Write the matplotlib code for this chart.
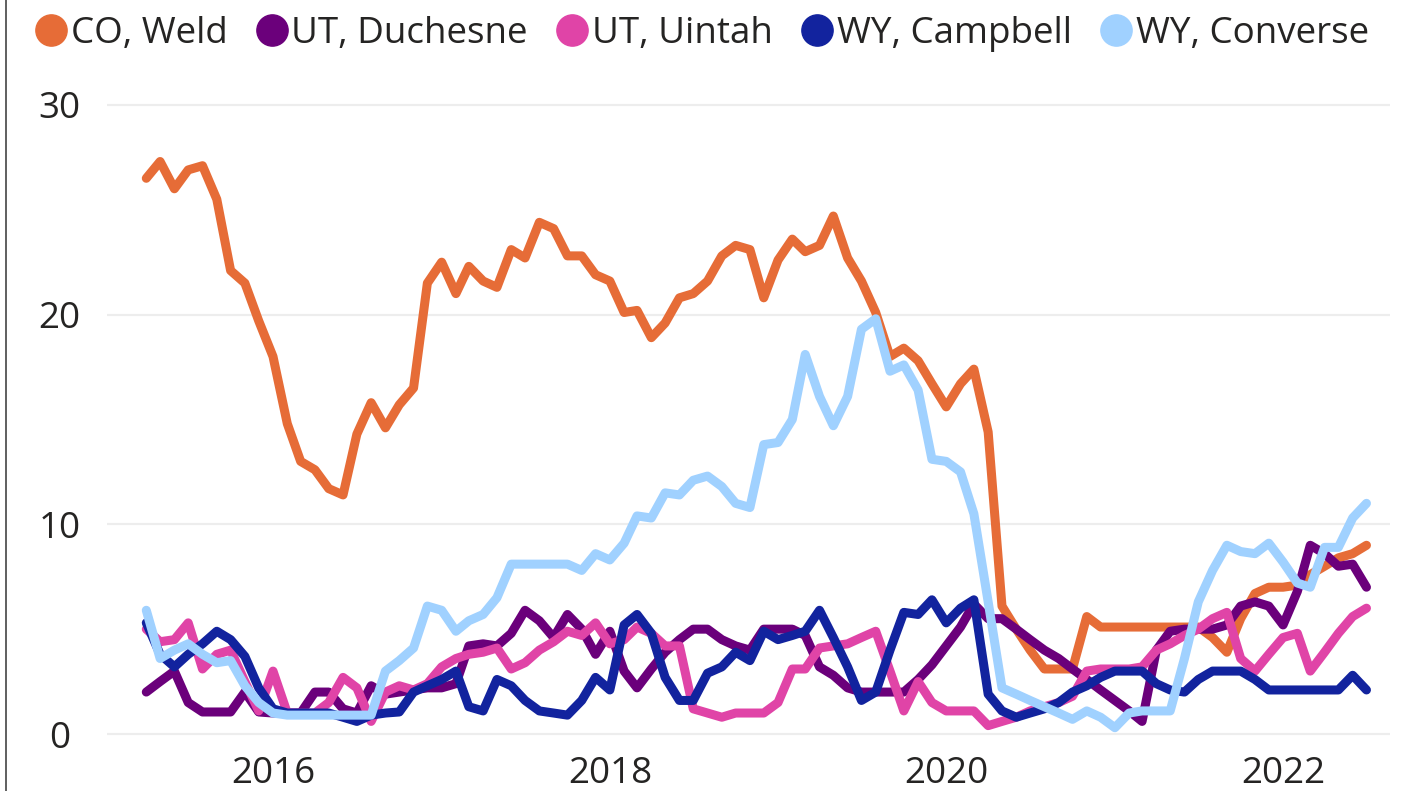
import matplotlib
matplotlib.use("Agg")
import matplotlib.pyplot as plt
import matplotlib.dates as mdates
from matplotlib.lines import Line2D
import pandas as pd

plt.rcParams['font.family'] = ['Open Sans', 'DejaVu Sans']

months = pd.date_range('2015-04-01', periods=88, freq='MS')

series_names = ['CO, Weld', 'UT, Duchesne', 'UT, Uintah', 'WY, Campbell', 'WY, Converse']
series_colors = ['#E66C37', '#6B007B', '#E044A7', '#12239E', '#A0D1FF']

co_weld = [
    26.5, 27.3, 26.0, 26.9, 27.1, 25.5, 22.1, 21.5, 19.7, 18.0,
    14.8, 13.0, 12.6, 11.7, 11.4, 14.3, 15.8, 14.6, 15.7, 16.5,
    21.5, 22.5, 21.0, 22.3, 21.6, 21.3, 23.1, 22.7, 24.4, 24.1,
    22.8, 22.8, 21.9, 21.6, 20.1, 20.2, 18.9, 19.6, 20.8, 21.0,
    21.6, 22.8, 23.3, 23.1, 20.8, 22.6, 23.6, 23.0, 23.3, 24.7,
    22.7, 21.6, 20.1, 18.0, 18.4, 17.8, 16.7, 15.6, 16.7, 17.4,
    14.4, 6.1, 5.0, 4.0, 3.1, 3.1, 3.1, 5.6, 5.1, 5.1,
    5.1, 5.1, 5.1, 5.1, 5.1, 5.1, 4.6, 3.9, 5.5, 6.7,
    7.0, 7.0, 7.1, 7.6, 8.0, 8.4, 8.6, 9.0,
]

ut_duchesne = [
    2.0, 2.5, 3.0, 1.5, 1.05, 1.05, 1.05, 2.0, 1.05, 1.0,
    1.0, 1.0, 2.0, 2.0, 1.2, 1.0, 2.3, 1.9, 2.0, 2.1,
    2.2, 2.2, 2.4, 4.2, 4.3, 4.2, 4.8, 5.9, 5.4, 4.6,
    5.7, 5.0, 3.8, 4.9, 3.0, 2.2, 3.1, 3.9, 4.5, 5.0,
    5.0, 4.5, 4.2, 4.0, 5.0, 5.0, 5.0, 4.7, 3.2, 2.8,
    2.2, 2.0, 2.0, 2.0, 2.0, 2.6, 3.3, 4.2, 5.1, 6.2,
    5.5, 5.5, 5.0, 4.5, 4.0, 3.6, 3.1, 2.6, 2.1, 1.6,
    1.1, 0.6, 4.0, 4.9, 5.0, 5.0, 5.0, 5.2, 6.1, 6.3,
    6.1, 5.2, 6.8, 9.0, 8.6, 8.0, 8.1, 7.0,
]

ut_uintah = [
    5.0, 4.4, 4.5, 5.3, 3.1, 3.8, 4.0, 2.5, 1.1, 3.0,
    1.0, 1.0, 1.0, 1.5, 2.7, 2.2, 0.6, 2.0, 2.3, 2.1,
    2.4, 3.2, 3.6, 3.8, 3.9, 4.1, 3.1, 3.4, 4.0, 4.4,
    4.9, 4.7, 5.3, 4.3, 4.5, 5.1, 4.8, 4.2, 4.2, 1.2,
    1.0, 0.8, 1.0, 1.0, 1.0, 1.5, 3.1, 3.1, 4.1, 4.2,
    4.3, 4.6, 4.9, 3.0, 1.1, 2.5, 1.5, 1.1, 1.1, 1.1,
    0.4, 0.6, 0.8, 1.1, 1.3, 1.5, 1.8, 3.0, 3.1, 3.1,
    3.1, 3.2, 4.0, 4.3, 4.7, 5.0, 5.5, 5.8, 3.6, 3.0,
    3.8, 4.6, 4.8, 3.0, 3.9, 4.8, 5.6, 6.0,
]

wy_campbell = [
    5.3, 3.8, 3.2, 3.8, 4.3, 4.9, 4.5, 3.7, 2.2, 1.2,
    1.0, 1.0, 1.0, 1.0, 0.8, 0.6, 0.9, 1.0, 1.05, 2.0,
    2.3, 2.6, 3.0, 1.3, 1.1, 2.6, 2.3, 1.6, 1.1, 1.0,
    0.9, 1.6, 2.7, 2.1, 5.2, 5.7, 4.8, 2.7, 1.6, 1.6,
    2.9, 3.2, 3.9, 3.5, 4.9, 4.5, 4.7, 4.9, 5.9, 4.6,
    3.2, 1.6, 2.0, 4.0, 5.8, 5.7, 6.4, 5.3, 6.0, 6.4,
    1.9, 1.1, 0.8, 1.0, 1.2, 1.5, 2.0, 2.3, 2.7, 3.0,
    3.0, 3.0, 2.4, 2.1, 2.0, 2.6, 3.0, 3.0, 3.0, 2.6,
    2.1, 2.1, 2.1, 2.1, 2.1, 2.1, 2.8, 2.1,
]

wy_converse = [
    5.9, 3.6, 4.0, 4.3, 3.8, 3.4, 3.5, 2.3, 1.5, 1.0,
    0.9, 0.9, 0.9, 0.9, 0.9, 0.9, 0.9, 3.0, 3.5, 4.1,
    6.1, 5.9, 4.9, 5.4, 5.7, 6.5, 8.1, 8.1, 8.1, 8.1,
    8.1, 7.8, 8.6, 8.3, 9.1, 10.4, 10.3, 11.5, 11.4, 12.1,
    12.3, 11.8, 11.0, 10.8, 13.8, 13.9, 15.0, 18.1, 16.1, 14.7,
    16.1, 19.3, 19.8, 17.3, 17.6, 16.4, 13.1, 13.0, 12.5, 10.5,
    6.3, 2.2, 1.9, 1.6, 1.3, 1.0, 0.7, 1.1, 0.8, 0.3,
    1.0, 1.1, 1.1, 1.1, 3.6, 6.3, 7.8, 9.0, 8.7, 8.6,
    9.1, 8.2, 7.2, 7.0, 8.9, 8.9, 10.3, 11.0,
]

x_ticks = ['2016-01-01', '2018-01-01', '2020-01-01', '2022-01-01']
x_tick_labels = ['2016', '2018', '2020', '2022']
y_ticks = [0, 10, 20, 30]

all_series = [co_weld, ut_duchesne, ut_uintah, wy_campbell, wy_converse]

W, H = 1406, 791
fig = plt.figure(figsize=(W / 100, H / 100), dpi=100)
fig.patch.set_facecolor('white')

ax_l, ax_r, ax_t, ax_b = 107, 1390, 90, 745
ax = fig.add_axes([ax_l / W, 1 - ax_b / H, (ax_r - ax_l) / W, (ax_b - ax_t) / H])

for name, color, vals in zip(series_names, series_colors, all_series):
    ax.plot(months, vals, color=color, lw=6.5, label=name,
            solid_joinstyle='round', solid_capstyle='round')

# axis ranges
ref = mdates.date2num(pd.Timestamp('2016-01-01'))
px_per_day = 0.4608
ax.set_xlim(ref + (ax_l - 273) / px_per_day, ref + (ax_r - 273) / px_per_day)
px_per_unit = 20.97
ax.set_ylim(-(ax_b - 734) / px_per_unit, (734 - ax_t) / px_per_unit)

ax.set_xticks([mdates.date2num(pd.Timestamp(d)) for d in x_ticks])
ax.set_xticklabels(x_tick_labels)
ax.set_yticks(y_ticks)
ax.set_yticklabels([str(v) for v in y_ticks])

tick_color = '#252423'
ax.tick_params(axis='x', length=0, pad=8, labelsize=26.5, labelcolor=tick_color)
ax.tick_params(axis='y', length=0, pad=34, labelsize=26.5, labelcolor=tick_color)
for lab in ax.get_yticklabels():
    lab.set_horizontalalignment('center')

for s in ax.spines.values():
    s.set_visible(False)
ax.grid(axis='y', color='#EDEDED', lw=1.6)
ax.grid(axis='x', visible=False)
ax.set_axisbelow(True)

handles = [Line2D([], [], marker='o', linestyle='', markersize=22.5,
                  markerfacecolor=c, markeredgecolor=c) for c in series_colors]
fig.legend(handles, series_names, loc='center left', ncol=5,
           bbox_to_anchor=(36 / W, 1 - 34 / H), frameon=False,
           fontsize=26.5, handlelength=0.82, handletextpad=0.12,
           columnspacing=0.8, borderaxespad=0, borderpad=0,
           labelcolor=tick_color)

# left border of the visual
fig.add_artist(Line2D([5.5 / W, 5.5 / W], [0, 1], transform=fig.transFigure,
                      color='#444444', lw=1.2))

fig.savefig('out.png', dpi=100, facecolor='white')
